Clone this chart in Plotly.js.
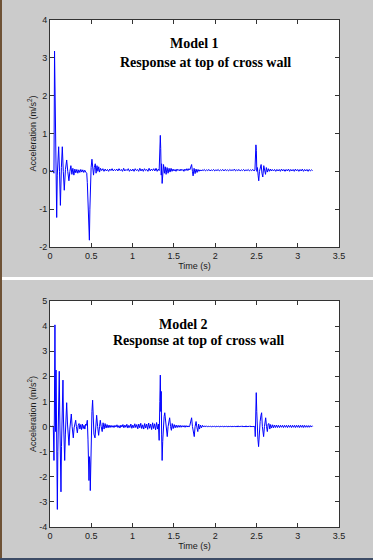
<!DOCTYPE html>
<html>
<head>
<meta charset="utf-8">
<script src="https://cdn.plot.ly/plotly-3.0.1.min.js"></script>
<style>
html,body{margin:0;padding:0;background:#cbcbcb;}
#chart{width:373px;height:560px;}
</style>
</head>
<body>
<div id="chart"></div>
<script>
// ---- Model 1 : response at top of cross wall ----
const time1 = [0,0.01,0.02,0.03,0.04,0.048,0.055,0.06,0.066,0.071,0.076,0.081,0.088,0.095,0.105,0.115,0.126,0.138,0.149,0.161,0.173,0.187,0.202,0.215,0.229,0.241,0.253,0.265,0.277,0.289,0.301,0.313,0.325,0.337,0.349,0.361,0.373,0.385,0.397,0.409,0.421,0.433,0.445,0.452,0.46,0.466,0.472,0.477,0.483,0.49,0.498,0.508,0.517,0.527,0.537,0.548,0.558,0.569,0.58,0.59,0.6,0.612,
0.626,0.64,0.654,0.668,0.682,0.696,0.71,0.724,0.738,0.752,0.766,0.78,0.794,0.808,0.822,0.836,0.85,0.864,0.878,0.892,0.906,0.92,0.934,0.948,0.962,0.976,0.99,1.004,1.018,1.032,1.046,1.06,1.074,1.088,1.102,1.116,1.13,1.144,1.158,1.172,1.186,1.2,1.214,1.228,1.242,1.256,1.27,1.284,1.298,1.312,1.322,
1.33,1.336,1.341,1.347,1.352,1.358,1.366,1.375,1.386,1.396,1.406,1.418,1.43,1.442,1.454,1.466,1.478,1.49,1.502,1.514,1.526,1.538,1.55,1.562,1.574,1.586,1.598,1.61,1.622,1.634,1.646,1.658,1.67,1.682,1.694,1.705,1.715,1.725,1.733,1.745,1.757,1.769,1.781,1.793,1.805,1.817,1.829,1.841,
1.855,1.869,1.883,1.897,1.911,1.925,1.939,1.953,1.967,1.981,1.995,2.009,2.023,2.037,2.051,2.065,2.079,2.093,2.107,2.121,2.135,2.149,2.163,2.177,2.191,2.205,2.219,2.233,2.247,2.261,2.275,2.289,2.303,2.317,2.331,2.345,2.359,2.373,2.387,2.401,2.415,2.429,2.443,2.457,2.471,2.482,
2.489,2.494,2.499,2.505,2.512,2.52,2.528,2.537,2.547,2.557,2.567,2.577,2.589,2.6,2.61,2.62,2.632,2.644,2.656,2.668,2.68,2.692,
2.706,2.72,2.734,2.748,2.762,2.776,2.79,2.804,2.818,2.832,2.846,2.86,2.874,2.888,2.902,2.916,2.93,2.944,2.958,2.972,2.986,3.0,3.014,3.028,3.042,3.056,3.07,3.084,3.098,3.112,3.126,3.14,3.154,3.168,3.18];
const accel1 = [0,0.02,-0.02,0.03,0,-0.05,3.18,2.4,0.1,0.3,-0.5,-1.22,-0.1,0.3,0.65,0,-0.9,0.1,0.65,0,-0.5,0.05,0.3,0,-0.25,0,0.15,-0.08,0.08,-0.1,0.06,-0.04,0.05,-0.05,0.04,-0.03,0.05,-0.02,0.04,-0.03,0.03,-0.02,-0.05,-0.3,-1.0,-1.5,-1.3,-1.82,-1.0,-0.3,0.1,0.32,0.15,-0.1,0.1,0.2,-0.05,0.15,0,0.12,-0.02,0.08,
0.02,0.07,0,0.06,0.01,0.05,0,0.06,0.02,0.07,0.01,0.05,0.02,0.06,0.01,0.07,0.02,0.05,0,0.08,0.01,0.05,0.02,0.07,0,0.05,0.01,0.06,0,0.07,0.02,0.05,0,0.08,0.01,0.06,0,0.07,0.02,0.05,0,0.08,0.01,0.06,0.02,0.07,0.01,0.08,0,0.06,0.02,
0.5,0.95,0.6,-0.1,0.2,-0.32,0,0.18,-0.05,0.12,-0.08,0.1,-0.05,0.08,-0.02,0.08,0,0.06,0.01,0.05,0,0.06,0.02,0.05,0.01,0.06,0.02,0.05,0,0.06,0.02,0.07,0.02,0.07,0.04,0.12,0.18,0,-0.12,0.08,-0.06,0.06,-0.03,0.05,0,0.04,0.01,0.04,
0.02,0.05,0.01,0.04,0.02,0.05,0.01,0.04,0.02,0.05,0.01,0.04,0.02,0.05,0.01,0.04,0.02,0.05,0.01,0.05,0.02,0.04,0.01,0.05,0.02,0.04,0.02,0.06,0.01,0.04,0.02,0.05,0.01,0.04,0.02,0.05,0.01,0.04,0.02,0.05,0.01,0.04,0.02,0.05,0.01,0.03,
0.3,0.7,0.55,0,0.1,-0.1,-0.25,0,0.12,0.18,-0.05,-0.15,0.15,0.02,-0.08,0.1,-0.02,0.07,0,0.06,0.01,0.05,
0.01,0.05,0,0.05,0.01,0.05,0,0.06,0.01,0.05,0,0.05,0.01,0.06,0,0.05,0.01,0.05,0,0.06,0.01,0.05,0,0.05,0.01,0.06,0,0.05,0.01,0.05,0,0.05,0.01,0.04,0.02];

// ---- Model 2 : response at top of cross wall ----
const time2 = [0,0.01,0.02,0.03,0.04,0.044,0.048,0.053,0.06,0.065,0.068,0.073,0.079,0.084,0.089,0.095,0.1,0.106,0.112,0.118,0.123,0.128,0.133,0.139,0.145,0.151,0.157,0.163,0.168,0.178,0.186,0.194,0.202,0.212,0.22,0.23,0.24,0.249,0.258,0.268,0.282,0.292,0.3,0.311,0.32,0.331,0.342,0.352,0.362,0.372,0.382,0.392,0.402,0.412,0.422,0.432,0.442,0.452,0.46,0.466,0.472,0.478,0.484,0.488,0.494,0.5,0.508,0.516,0.524,0.532,0.545,0.555,0.565,0.577,0.589,0.6,0.609,0.62,0.632,0.643,0.655,0.667,0.679,0.691,0.703,0.715,0.727,0.739,0.751,0.763,
0.775,0.787,0.799,0.811,0.823,0.835,0.847,0.859,0.871,0.883,0.895,0.907,0.919,0.931,0.943,0.955,0.967,0.979,0.991,1.003,1.015,1.027,1.039,1.051,1.063,1.075,1.087,1.099,1.111,1.123,1.135,1.147,1.159,1.171,1.183,1.195,1.207,1.219,1.231,1.243,1.255,1.267,1.279,1.291,1.303,1.313,
1.322,1.33,1.336,1.342,1.347,1.352,1.358,1.365,1.373,1.382,1.39,1.4,1.41,1.42,1.43,1.44,1.449,1.46,1.47,1.48,1.492,1.504,1.516,1.528,1.54,1.552,1.564,1.576,1.588,1.6,1.612,1.624,1.636,1.648,1.66,1.672,1.684,1.694,1.705,1.715,1.725,1.735,1.747,1.757,1.769,1.78,1.79,1.8,1.811,1.822,1.834,1.846,1.858,1.87,
1.882,1.894,1.906,1.918,1.93,1.942,1.954,1.966,1.978,1.99,2.002,2.014,2.026,2.038,2.05,2.062,2.074,2.086,2.098,2.11,2.122,2.134,2.146,2.158,2.17,2.182,2.194,2.206,2.218,2.23,2.242,2.254,2.266,2.278,2.29,2.302,2.314,2.326,2.338,2.35,2.362,2.374,2.386,2.398,2.41,2.422,2.434,2.446,2.458,2.47,2.48,
2.486,2.492,2.498,2.504,2.51,2.518,2.526,2.535,2.545,2.555,2.563,2.572,2.58,2.587,2.597,2.605,2.612,2.622,2.632,2.642,2.652,2.662,2.672,2.684,2.696,2.708,2.72,2.732,2.744,2.756,2.768,
2.78,2.792,2.804,2.816,2.828,2.84,2.852,2.864,2.876,2.888,2.9,2.912,2.924,2.936,2.948,2.96,2.972,2.984,2.996,3.008,3.02,3.032,3.044,3.056,3.068,3.08,3.092,3.104,3.116,3.128,3.14,3.152,3.164,3.176,3.18];
const accel2 = [0,0.02,-0.02,0.02,0,-0.6,-1.35,0.5,4.05,1.0,-0.2,2.25,-0.9,-1.9,-3.3,-1.0,0.3,1.4,2.2,0.5,-1.2,-2.0,-2.6,-0.8,0.6,1.4,1.85,0.3,-0.6,-1.35,-0.3,0.5,0.95,0.1,-0.5,-0.75,-0.1,0.3,0.5,0,-0.45,-0.05,0.15,0.25,0,-0.25,0.05,0.12,-0.1,0.08,-0.12,0.1,-0.08,0.05,-0.1,0.1,0.05,0.25,-0.5,-1.4,-2.15,-1.2,-1.5,-2.55,-1.0,0,0.6,1.05,0.3,-0.3,-0.45,0,0.45,0,-0.35,0,0.25,0,-0.2,0.15,-0.1,0.12,-0.06,0.08,-0.05,0.06,-0.04,0.05,-0.03,0.04,
-0.04,0.05,-0.02,0.07,-0.04,0.04,-0.06,0.06,-0.02,0.08,-0.05,0.06,-0.03,0.09,-0.06,0.05,-0.04,0.1,-0.07,0.06,-0.05,0.11,-0.04,0.08,-0.09,0.1,-0.05,0.13,-0.08,0.07,-0.1,0.12,-0.06,0.1,-0.11,0.14,-0.07,0.1,-0.12,0.15,-0.08,0.11,-0.13,0.16,-0.1,0.1,
-0.55,1.0,2.05,0.6,1.4,-0.3,-1.35,-0.6,0.1,0.4,0.55,0.1,-0.25,-0.4,0,0.25,0.35,0,-0.15,0.12,-0.08,0.08,-0.05,0.06,-0.04,0.05,-0.03,0.05,-0.03,0.04,-0.02,0.04,-0.03,0.04,-0.02,0.03,-0.02,0.05,0.2,0.35,0,-0.2,-0.4,0,0.2,-0.05,-0.2,0.1,-0.1,0.06,-0.05,0.05,-0.02,0.03,
-0.02,0.03,-0.01,0.02,-0.02,0.02,-0.01,0.02,-0.02,0.02,-0.01,0.02,-0.02,0.02,-0.01,0.02,-0.02,0.02,-0.01,0.02,-0.02,0.02,-0.01,0.02,-0.02,0.02,-0.01,0.02,-0.02,0.02,-0.01,0.02,-0.02,0.03,-0.02,0.02,-0.01,0.03,-0.02,0.02,-0.02,0.03,-0.02,0.02,-0.01,0.03,-0.02,0.02,-0.02,0.02,0,
-0.4,0.5,1.35,0.6,-0.1,-0.5,-0.8,-0.2,0.2,0.45,0.55,0,-0.3,-0.4,0,0.25,0.35,0,-0.2,0.1,0.12,-0.1,0.08,-0.06,0.07,-0.05,0.06,-0.04,0.06,-0.04,0.05,
-0.04,0.05,-0.03,0.05,-0.04,0.05,-0.03,0.05,-0.04,0.05,-0.03,0.05,-0.04,0.05,-0.03,0.05,-0.04,0.05,-0.03,0.05,-0.04,0.05,-0.03,0.05,-0.04,0.05,-0.03,0.04,-0.03,0.04,-0.03,0.04,-0.02,0.03,0.01];

// ---- labels ----
const panelTitles = [["Model 1", "Response at top of cross wall"], ["Model 2", "Response at top of cross wall"]];
const xTitle = "Time (s)";
const yTitle = "Acceleration (m/s<sup>2</sup>)";
const yTicks1 = [-2,-1,0,1,2,3,4];
const yTicks2 = [-4,-3,-2,-1,0,1,2,3,4,5];
const xTicks = [0,0.5,1,1.5,2,2.5,3,3.5];
const xTickText = ["0","0.5","1","1.5","2","2.5","3","3.5"];

const W = 373, H = 560;
const px = v => v / W;
const py = v => 1 - v / H;

const sans = {family: "Liberation Sans, Arial, sans-serif", size: 9, color: "#1a1a1a"};
const serif = {family: "Liberation Serif, Times New Roman, serif", size: 14, color: "#000000", weight: "bold"};

function xAxis(anchor) {
  return {
    domain: [px(50), px(339)], anchor: anchor, range: [0, 3.5],
    tickvals: xTicks, ticktext: xTickText,
    ticks: "inside", ticklen: 4, tickcolor: "#333", tickwidth: 1,
    showline: true, linecolor: "#333", linewidth: 1, mirror: "ticks",
    showgrid: false, zeroline: false, tickfont: sans,
    title: {text: xTitle, font: sans, standoff: 1}
  };
}
function yAxis(anchor, dom, rng, ticks) {
  return {
    domain: dom, anchor: anchor, range: rng,
    tickvals: ticks, ticktext: ticks.map(String),
    ticks: "inside", ticklen: 4, tickcolor: "#333", tickwidth: 1,
    showline: true, linecolor: "#333", linewidth: 1, mirror: "ticks",
    showgrid: false, zeroline: false, tickfont: sans,
    title: {text: yTitle, font: sans, standoff: 1}
  };
}

const traces = [
  {x: time1, y: accel1, type: "scatter", mode: "lines", xaxis: "x", yaxis: "y",
   line: {color: "#0000ff", width: 1}, showlegend: false, hoverinfo: "skip"},
  {x: time2, y: accel2, type: "scatter", mode: "lines", xaxis: "x2", yaxis: "y2",
   line: {color: "#0000ff", width: 1}, showlegend: false, hoverinfo: "skip"}
];

const annotations = [
  {text: panelTitles[0][0], x: px(194), y: py(44), xref: "paper", yref: "paper", showarrow: false, font: serif, xanchor: "center", yanchor: "middle"},
  {text: panelTitles[0][1], x: px(205), y: py(62), xref: "paper", yref: "paper", showarrow: false, font: serif, xanchor: "center", yanchor: "middle"},
  {text: panelTitles[1][0], x: px(183), y: py(324), xref: "paper", yref: "paper", showarrow: false, font: serif, xanchor: "center", yanchor: "middle"},
  {text: panelTitles[1][1], x: px(198), y: py(341), xref: "paper", yref: "paper", showarrow: false, font: serif, xanchor: "center", yanchor: "middle"}
];

const shapes = [
  {type: "rect", xref: "paper", yref: "paper", x0: 0, x1: 1, y0: py(280), y1: py(277), fillcolor: "#ffffff", line: {width: 0}, layer: "below"},
  {type: "rect", xref: "paper", yref: "paper", x0: 0, x1: px(2), y0: 0, y1: 1, fillcolor: "#6e5236", line: {width: 0}, layer: "below"},
  {type: "rect", xref: "paper", yref: "paper", x0: 0, x1: 1, y0: 0, y1: py(558), fillcolor: "#3d4c66", line: {width: 0}, layer: "below"}
];

const layout = {
  width: W, height: H,
  margin: {l: 0, r: 0, t: 0, b: 0},
  paper_bgcolor: "#cbcbcb", plot_bgcolor: "#ffffff",
  showlegend: false,
  xaxis: xAxis("y"),
  yaxis: yAxis("x", [py(247), py(20)], [-2, 4], yTicks1),
  xaxis2: xAxis("y2"),
  yaxis2: yAxis("x2", [py(527), py(301)], [-4, 5], yTicks2),
  annotations: annotations,
  shapes: shapes
};

Plotly.newPlot("chart", traces, layout, {displayModeBar: false, staticPlot: true});
</script>
</body>
</html>
